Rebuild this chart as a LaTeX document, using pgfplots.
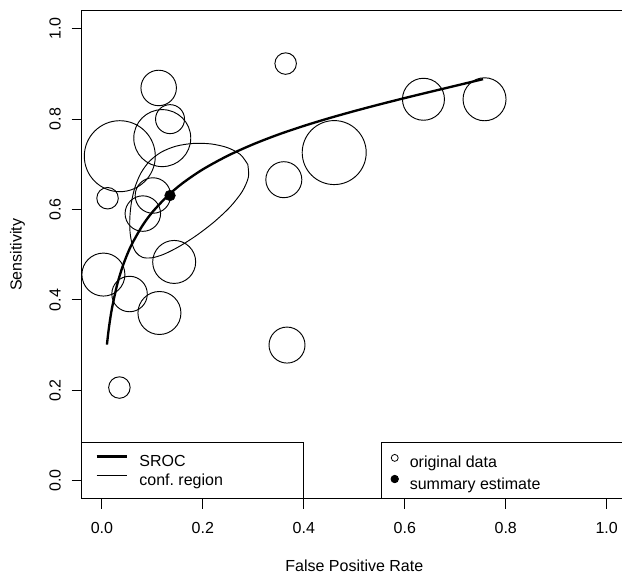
\documentclass[border=0pt]{standalone}
\usepackage{fontspec}
\setmainfont{Liberation Sans}
\usepackage{pgfplots}
\pgfplotsset{compat=1.18}
\newcommand\rfont{\fontsize{12}{14}\selectfont}

\pgfplotsset{
  rbase/.style={
    at={(0,0)}, anchor=south west, scale only axis,
    width=408.9pt, height=366pt,
    xmin=-0.04, xmax=1.04, ymin=-0.04, ymax=1.04,
  },
  rlegend/.style={
    legend style={draw=none, fill=none, inner sep=0pt, outer sep=0pt,
      font=\rfont, row sep=3pt,
      nodes={inner sep=0pt, text height=9pt, text depth=2.5pt},
      cells={anchor=west},
      /tikz/every odd column/.append style={column sep=#1}},
  },
}

\begin{document}
\begin{tikzpicture}
\begin{axis}[rbase, rlegend=8.75pt,
  axis line style={line width=0.9pt},
  tick style={black, line width=0.7pt},
  major tick length=7.5pt, tick align=outside,
  xtick pos=bottom, ytick pos=left,
  xtick={0,0.2,0.4,0.6,0.8,1}, xticklabels={0.0,0.2,0.4,0.6,0.8,1.0},
  ytick={0,0.2,0.4,0.6,0.8,1}, yticklabels={0.0,0.2,0.4,0.6,0.8,1.0},
  xticklabel style={font=\rfont, anchor=base, inner sep=0pt},
  yticklabel style={font=\rfont, anchor=base, rotate=90, inner sep=0pt},
  xticklabel shift=18.5pt, yticklabel shift=8.25pt,
  xlabel={False Positive Rate}, ylabel={Sensitivity},
  every axis x label/.style={at={([yshift=-54.75pt]axis description cs:0.5,0)}, anchor=base, font=\rfont, inner sep=0pt},
  every axis y label/.style={at={([xshift=-45pt]axis description cs:0,0.5)}, anchor=base, rotate=90, font=\rfont, inner sep=0pt},
  legend style={at={(axis cs:-0.0129,0.058)}, anchor=north west},
  legend image code/.code={\draw[#1] (0pt,4.3pt) -- (22.5pt,4.3pt);},
]
\draw[line width=0.75pt, fill=white] (axis cs:-0.04,-0.04) rectangle (axis cs:0.4,0.0854);

% SROC curve
\addplot[black, line width=1.75pt, smooth] coordinates {
(0.01,0.301) (0.0125,0.326) (0.015,0.347) (0.02,0.3816) (0.03,0.4327) (0.04,0.4704)
(0.05,0.5001) (0.06,0.5247) (0.08,0.5638) (0.10,0.5942) (0.13,0.6300) (0.16,0.6584)
(0.20,0.6889) (0.25,0.7194) (0.30,0.7445) (0.35,0.7661) (0.40,0.7850) (0.45,0.8021)
(0.50,0.8178) (0.55,0.8326) (0.60,0.8467) (0.65,0.8603) (0.70,0.8737) (0.755,0.8885) };
\addlegendentry{SROC}

% confidence region
\addplot[black, line width=0.7pt, smooth] coordinates {
(0.2890,0.6997) (0.2744,0.7216) (0.2488,0.7369) (0.2159,0.7452) (0.1804,0.7462)
(0.1466,0.7401) (0.1175,0.7269) (0.0944,0.7069) (0.0774,0.6809) (0.0657,0.6500)
(0.0586,0.6164) (0.0554,0.5824) (0.0557,0.5509) (0.0597,0.5244) (0.0676,0.5051)
(0.0801,0.4943) (0.0983,0.4929) (0.1225,0.5009) (0.1526,0.5178) (0.1870,0.5423)
(0.2224,0.5726) (0.2543,0.6061) (0.2781,0.6401) (0.2903,0.6720) (0.2890,0.6997) };
\addlegendentry{conf.\ region}
\end{axis}

\begin{axis}[rbase, hide axis, rlegend=8.5pt,
  legend style={at={(axis cs:0.5727,0.058)}, anchor=north west},
  legend image code/.code={\draw[#1] plot coordinates {(2.9pt,4.3pt)};},
]
\draw[line width=0.75pt, fill=white] (axis cs:0.553,-0.04) rectangle (axis cs:1.04,0.0854);

% study data, circle diameter d in px
\addplot[scatter, only marks, mark=o, forget plot,
  scatter/use mapped color={draw=black},
  visualization depends on={0.375*\thisrow{d} \as \msz},
  scatter/@pre marker code/.append style={/tikz/mark size=\msz},
  mark options={line width=0.7pt}]
  table {
x      y     d
0.364  0.923 21.5
0.1125 0.869 35.5
0.135  0.800 29
0.1196 0.758 57
0.0355 0.718 71
0.0112 0.625 21.5
0.1011 0.631 35.5
0.0811 0.591 35.5
0.1432 0.484 43
0.3604 0.666 36
0.4602 0.726 64
0.637  0.844 42
0.758  0.844 43
0.003  0.456 43
0.0548 0.413 35.5
0.114  0.371 43
0.3667 0.300 36
0.0347 0.206 21.5
};

% summary estimate
\addplot[black, only marks, mark=*, mark size=4pt, forget plot] coordinates {(0.135,0.631)};

\addlegendimage{black, mark=o, mark size=2.6pt, line width=0.6pt}
\addlegendentry{original data}
\addlegendimage{black, mark=*, mark size=2.8pt, line width=0.6pt}
\addlegendentry{summary estimate}
\end{axis}
\pgfresetboundingbox
\path[use as bounding box] (-61.275pt,-57.975pt) rectangle (405.225pt,374.025pt);
\end{tikzpicture}
\end{document}
